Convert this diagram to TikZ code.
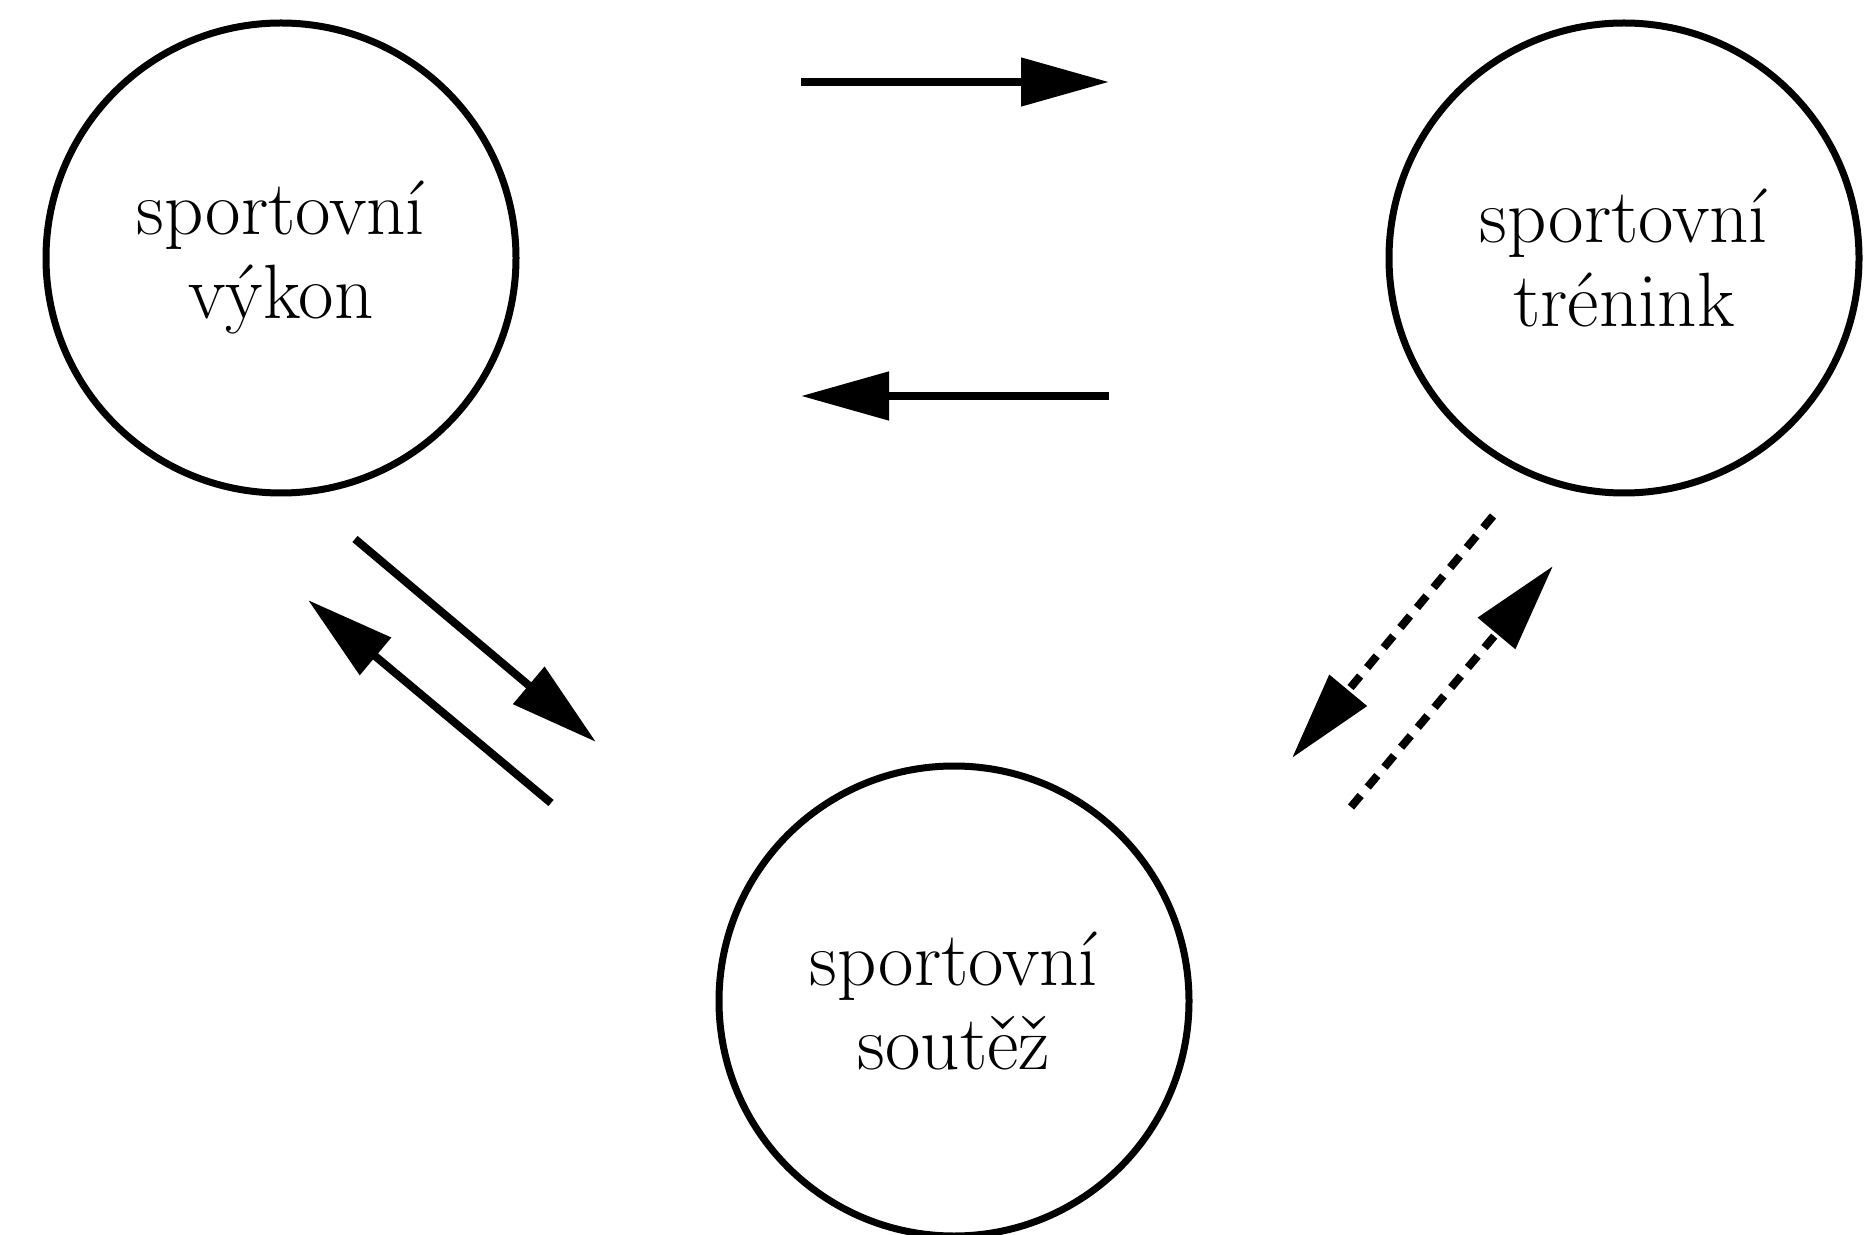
\documentclass[tikz,border=0pt]{standalone}
\usepackage{tikz}
\usetikzlibrary{arrows.meta,positioning}

\begin{document}
\begin{tikzpicture}[x=0.5pt, y=-0.5pt,
    pojem/.style={draw, circle, line width=3.5pt, minimum size=235pt, align=center, inner sep=0pt, font=\fontsize{38.5}{42}\selectfont},
    sipka/.style={line width=4pt, -{Triangle[length=44pt, width=23.5pt]}},
    tecky/.style={sipka, dash pattern=on 7.5pt off 5.5pt}]
    \useasboundingbox (0,0) rectangle (1870,1235);
    \node[pojem] (vykon) at (281,258) {sportovní\\výkon};
    \node[pojem] (trenink) at (1624,258) {sportovní\\trénink};
    \node[pojem] (soutez) at (954,1001) {sportovní\\soutěž};
    % vykon <-> trenink
    \coordinate (a1) at (801,82);
    \coordinate (a2) at (1109,82);
    \coordinate (b1) at (1109,396);
    \coordinate (b2) at (801,396);
    \draw[sipka] (a1) -- (a2);
    \draw[sipka] (b1) -- (b2);
    % vykon <-> soutez
    \coordinate (c1) at (355,539);
    \coordinate (c2) at (596,742);
    \coordinate (d1) at (551,803);
    \coordinate (d2) at (308,600);
    \draw[sipka] (c1) -- (c2);
    \draw[sipka] (d1) -- (d2);
    % trenink <-> soutez
    \coordinate (e1) at (1493,516);
    \coordinate (e2) at (1292,758);
    \coordinate (f1) at (1351,807);
    \coordinate (f2) at (1553,566);
    \draw[tecky] (e1) -- (e2);
    \draw[tecky] (f1) -- (f2);
\end{tikzpicture}
\end{document}
